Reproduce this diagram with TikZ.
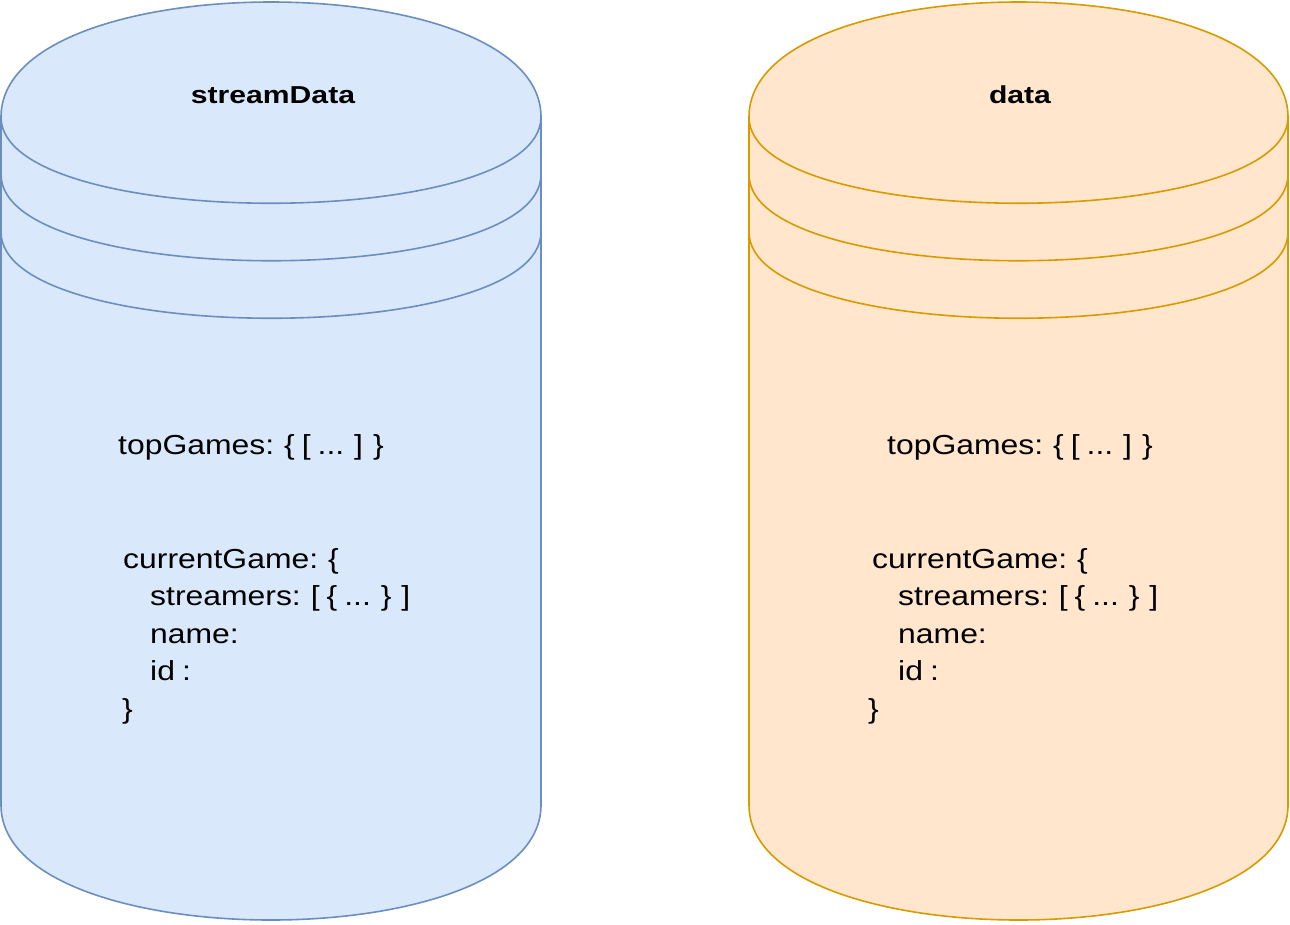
\documentclass[tikz,border=0pt]{standalone}
\usepackage{fontspec}
\newfontfamily\bodyfont[FakeStretch=1.16]{Liberation Sans}
\newfontfamily\titlefont[FakeStretch=1.23]{Liberation Sans}
\newcommand\bodytextfont{\bodyfont\fontsize{27.5}{37.5}\selectfont\spaceskip 7pt\relax}
\newcommand\titletextfont{\titlefont\bfseries\fontsize{24.5}{28}\selectfont}
\definecolor{bluefill}{HTML}{DAE8FC}
\definecolor{bluestroke}{HTML}{6C8EBF}
\definecolor{orangefill}{HTML}{FFE6CC}
\definecolor{orangestroke}{HTML}{D79B00}
% #1 x0, #2 width, #3 fill, #4 stroke
\newcommand\dbcyl[4]{%
  \pgfmathsetmacro\xa{#1}\pgfmathsetmacro\xb{#1+#2}%
  \draw[cylline,fill=#3,draw=#4] (\xa,117) .. controls (\xa,-36.33) and (\xb,-36.33) .. (\xb,117)
     -- (\xb,805) .. controls (\xb,958.33) and (\xa,958.33) .. (\xa,805) -- cycle;
  \foreach \yy in {117,174.5,232}{
    \pgfmathsetmacro\yc{\yy+115}
    \draw[cylline,draw=#4] (\xa,\yy) .. controls (\xa,\yc) and (\xb,\yc) .. (\xb,\yy);
  }%
}
\begin{document}
\begin{tikzpicture}[x=1pt,y=-1pt,
  cylline/.style={line width=1.6pt},
  titletext/.style={inner sep=0pt,anchor=base,font=\titletextfont},
  bodytext/.style={inner sep=0pt,anchor=base west,font=\bodytextfont}]
\useasboundingbox[fill=white] (0,0) rectangle (1290,924);
\dbcyl{1}{540}{bluefill}{bluestroke}
\dbcyl{749}{539}{orangefill}{orangestroke}
% left cylinder texts
\node[titletext] (t1) at (273,103) {streamData};
\node[bodytext] (a1) at (118,454) {topGames: \{ [ ... ] \}};
\node[bodytext] (a2) at (123,568) {currentGame: \{};
\node[bodytext] (a3) at (150,605.5) {streamers: [ \{ ... \} ]};
\node[bodytext] (a4) at (150,643) {name:};
\node[bodytext] (a5) at (150,680.5) {id :};
\node[bodytext] (a6) at (122,718) {\}};
% right cylinder texts
\node[titletext] (t2) at (1020,103) {data};
\node[bodytext] (b1) at (887,454) {topGames: \{ [ ... ] \}};
\node[bodytext] (b2) at (872,568) {currentGame: \{};
\node[bodytext] (b3) at (898,605.5) {streamers: [ \{ ... \} ]};
\node[bodytext] (b4) at (898,643) {name:};
\node[bodytext] (b5) at (898,680.5) {id :};
\node[bodytext] (b6) at (868,718) {\}};
\end{tikzpicture}
\end{document}
